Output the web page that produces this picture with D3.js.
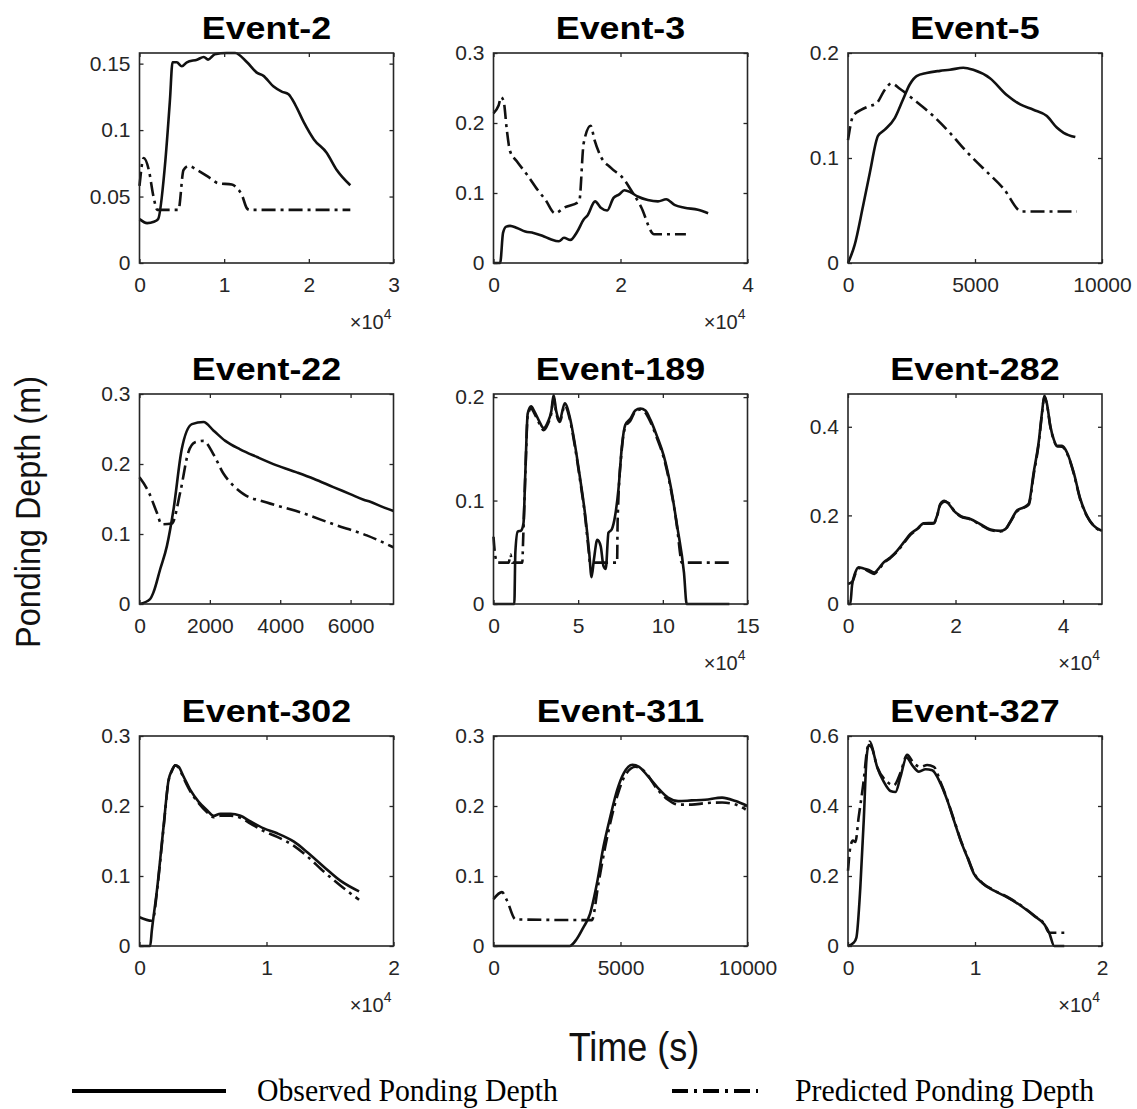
<!DOCTYPE html>
<html>
<head>
<meta charset="utf-8">
<script src="https://cdn.jsdelivr.net/npm/d3@7"></script>
<style>
  body { margin: 0; background: #fff; }
  svg { display: block; }
</style>
</head>
<body>
<div id="vizcontainer"></div>
<script>
// ---- data (time in s, ponding depth in m) ----
const eventNames = ['Event-2', 'Event-3', 'Event-5', 'Event-22', 'Event-189', 'Event-282', 'Event-302', 'Event-311', 'Event-327'];

const ev2Obs = [[0,0.033],[900,0.030],[1700,0.031],[2200,0.033],[3000,0.073],[3600,0.123],[3900,0.151],[4400,0.151],[5000,0.148],[5600,0.151],[6800,0.153],[7600,0.155],[8100,0.153],[8900,0.157],[10300,0.158],[11300,0.158],[12700,0.151],[13900,0.143],[14600,0.141],[15800,0.133],[16800,0.129],[17600,0.127],[18400,0.119],[19400,0.106],[20600,0.093],[22100,0.083],[23300,0.070],[24900,0.0585]];
const ev2Pred = [[0,0.058],[500,0.079],[1100,0.070],[1650,0.050],[2100,0.040],[4600,0.040],[5200,0.070],[5800,0.073],[6800,0.070],[8300,0.064],[9300,0.060],[10900,0.059],[11500,0.0565],[12100,0.051],[12700,0.041],[13000,0.040],[24900,0.040]];

const ev3Obs = [[0,0],[1050,0],[1500,0.043],[2000,0.052],[2600,0.053],[3700,0.050],[5000,0.045],[6300,0.043],[7700,0.039],[9000,0.034],[10300,0.031],[11100,0.036],[12100,0.033],[13200,0.045],[14200,0.062],[14800,0.068],[16000,0.088],[16900,0.079],[17900,0.075],[18900,0.093],[19800,0.098],[20600,0.104],[21600,0.101],[22700,0.095],[24300,0.090],[25900,0.088],[27200,0.091],[28500,0.083],[30100,0.079],[32200,0.076],[33800,0.071]];
const ev3Pred = [[0,0.214],[800,0.225],[1200,0.237],[1600,0.231],[2100,0.19],[2600,0.16],[3700,0.145],[5300,0.126],[6900,0.105],[8200,0.090],[9700,0.071],[11100,0.079],[13500,0.088],[14200,0.171],[15300,0.196],[15900,0.176],[16900,0.152],[18500,0.136],[20600,0.119],[21600,0.105],[23200,0.081],[25300,0.041],[30300,0.041]];

const ev5Obs = [[0,0],[260,0.017],[590,0.054],[860,0.086],[1180,0.121],[1450,0.127],[1840,0.138],[2170,0.156],[2430,0.17],[2700,0.178],[3090,0.181],[3620,0.183],[4010,0.184],[4540,0.186],[4930,0.184],[5590,0.176],[6250,0.160],[6780,0.151],[7300,0.146],[7830,0.140],[8220,0.129],[8490,0.124],[8950,0.120]];
const ev5Pred = [[0,0.117],[200,0.140],[530,0.146],[790,0.149],[1120,0.152],[1450,0.165],[1710,0.171],[2040,0.166],[2570,0.156],[3360,0.140],[4010,0.124],[4670,0.106],[5330,0.090],[6120,0.071],[6840,0.049],[9010,0.049]];

const ev22Obs = [[0,0],[300,0.007],[400,0.017],[590,0.05],[780,0.083],[970,0.136],[1200,0.221],[1490,0.257],[1820,0.26],[2100,0.248],[2440,0.233],[2860,0.221],[3340,0.21],[3900,0.198],[4470,0.188],[4950,0.179],[5510,0.167],[5990,0.157],[6370,0.149],[6560,0.146],[6940,0.138],[7220,0.133]];
const ev22Pred = [[0,0.181],[260,0.16],[490,0.131],[630,0.114],[920,0.115],[1160,0.16],[1390,0.217],[1580,0.231],[1820,0.233],[2100,0.214],[2390,0.186],[2670,0.169],[2960,0.157],[3620,0.145],[4570,0.131],[5510,0.114],[6460,0.098],[7220,0.081]];

const ev189Obs = [[0,0],[12300,0],[12900,0.050],[14300,0.070],[16300,0.071],[17700,0.078],[18800,0.127],[20200,0.184],[22200,0.191],[24200,0.186],[27200,0.176],[29600,0.170],[32100,0.176],[34100,0.186],[35500,0.202],[37100,0.186],[39100,0.178],[42100,0.194],[45000,0.181],[48000,0.155],[51000,0.123],[54000,0.088],[56500,0.050],[57900,0.026],[59300,0.043],[61300,0.062],[63300,0.056],[64900,0.037],[66300,0.034],[67900,0.069],[69800,0.072],[71800,0.085],[73800,0.111],[75800,0.152],[77800,0.173],[80800,0.179],[83700,0.187],[86700,0.189],[89700,0.187],[92700,0.178],[96600,0.162],[100600,0.143],[104600,0.114],[108500,0.075],[112500,0.030],[114100,0],[139300,0]];
const ev189Pred = [[0,0.065],[1200,0.045],[2500,0.040],[9000,0.040],[10000,0.048],[11000,0.040],[17000,0.040],[17500,0.062],[18800,0.125],[20200,0.182],[22200,0.189],[24200,0.184],[27200,0.174],[29600,0.168],[32100,0.174],[34100,0.184],[35500,0.199],[37100,0.184],[39100,0.176],[42100,0.192],[45000,0.179],[48000,0.153],[51000,0.121],[54000,0.086],[56300,0.050],[57000,0.040],[73000,0.040],[73300,0.080],[75800,0.150],[77800,0.171],[80800,0.177],[83700,0.186],[86700,0.188],[89700,0.185],[92700,0.176],[96600,0.160],[100600,0.141],[104600,0.112],[108500,0.073],[110500,0.045],[111000,0.040],[139300,0.040]];

const ev282Obs = [[0,0],[430,0],[740,0.041],[1360,0.071],[1980,0.083],[2910,0.080],[3840,0.077],[4900,0.071],[5700,0.080],[6640,0.094],[7880,0.105],[9120,0.120],[10360,0.139],[11600,0.158],[12840,0.169],[14080,0.182],[15940,0.183],[16560,0.199],[17180,0.226],[17920,0.233],[18730,0.226],[19660,0.211],[20900,0.199],[22760,0.192],[24620,0.180],[26480,0.168],[28340,0.165],[29270,0.169],[30200,0.186],[31440,0.211],[32680,0.218],[33610,0.226],[34540,0.297],[35470,0.365],[36090,0.432],[36530,0.470],[37020,0.451],[37640,0.402],[38260,0.372],[38880,0.357],[39810,0.357],[40740,0.342],[41980,0.297],[43220,0.237],[44460,0.199],[45700,0.177],[47250,0.165]];
const ev282Pred = [[0,0.045],[900,0.052],[1360,0.068],[1980,0.081],[2910,0.079],[3840,0.074],[4900,0.068],[5700,0.078],[6640,0.092],[7880,0.104],[9120,0.118],[10360,0.137],[11600,0.156],[12840,0.168],[14080,0.181],[15940,0.182],[16560,0.198],[17180,0.224],[17920,0.231],[18730,0.228],[19660,0.212],[20900,0.198],[22760,0.191],[24620,0.179],[26480,0.167],[28340,0.164],[29270,0.168],[30200,0.185],[31440,0.209],[32680,0.217],[33610,0.224],[34540,0.292],[35470,0.362],[36090,0.430],[36530,0.468],[37020,0.450],[37640,0.400],[38260,0.371],[38880,0.356],[39810,0.355],[40740,0.340],[41980,0.295],[43220,0.235],[44460,0.198],[45700,0.176],[47250,0.164]];

const ev302Obs = [[0,0],[840,0],[970,0.022],[1370,0.079],[1890,0.17],[2290,0.237],[2550,0.251],[2820,0.258],[3080,0.256],[3470,0.242],[4000,0.223],[4660,0.206],[5320,0.194],[5840,0.186],[6370,0.189],[7160,0.189],[7950,0.186],[8740,0.178],[9790,0.168],[10840,0.161],[12160,0.149],[13210,0.134],[14530,0.113],[15840,0.093],[17290,0.078]];
const ev302Pred = [[0,0.041],[970,0.036],[1100,0.040],[1370,0.077],[1890,0.168],[2290,0.236],[2550,0.250],[2820,0.258],[3080,0.255],[3470,0.240],[4000,0.221],[4660,0.204],[5320,0.191],[5840,0.184],[6370,0.186],[7160,0.186],[7950,0.183],[8740,0.175],[9790,0.164],[10840,0.156],[12160,0.143],[13210,0.128],[14530,0.106],[15840,0.086],[17290,0.066]];

const ev311Obs = [[0,0],[3000,0],[3270,0.0096],[3530,0.026],[3800,0.046],[4070,0.089],[4330,0.142],[4600,0.185],[4870,0.223],[5130,0.247],[5470,0.259],[5730,0.256],[6070,0.243],[6470,0.226],[6870,0.212],[7270,0.207],[7800,0.208],[8330,0.209],[9000,0.212],[9530,0.207],[10000,0.200]];
const ev311Pred = [[0,0.067],[330,0.077],[530,0.065],[870,0.038],[3870,0.037],[4130,0.089],[4400,0.142],[4870,0.214],[5200,0.245],[5600,0.256],[5930,0.250],[6470,0.223],[6870,0.209],[7270,0.202],[7800,0.202],[8330,0.204],[9000,0.205],[9530,0.202],[9930,0.195]];

const ev327Obs = [[0,0],[450,0.0096],[660,0.024],[970,0.167],[1240,0.359],[1450,0.531],[1630,0.574],[1890,0.565],[2290,0.512],[2820,0.469],[3340,0.443],[3740,0.44],[4130,0.483],[4610,0.539],[5050,0.517],[5580,0.498],[6110,0.505],[6630,0.502],[7290,0.464],[7820,0.416],[8340,0.359],[8870,0.301],[9390,0.254],[9920,0.206],[10580,0.179],[11500,0.158],[12550,0.139],[13610,0.115],[14660,0.086],[15450,0.062],[15840,0.038],[16240,0],[17030,0]];
const ev327Pred = [[0,0.215],[180,0.282],[390,0.301],[580,0.297],[840,0.368],[1240,0.474],[1500,0.56],[1710,0.584],[2290,0.512],[3080,0.469],[3610,0.459],[4130,0.495],[4660,0.546],[5180,0.522],[5710,0.512],[6240,0.517],[6760,0.512],[7290,0.468],[7820,0.418],[8340,0.361],[8870,0.303],[9390,0.256],[9920,0.208],[10580,0.180],[11500,0.159],[12550,0.140],[13610,0.116],[14660,0.087],[15450,0.063],[15840,0.038],[17030,0.038]];

const obsSeries = [ev2Obs, ev3Obs, ev5Obs, ev22Obs, ev189Obs, ev282Obs, ev302Obs, ev311Obs, ev327Obs];
const predSeries = [ev2Pred, ev3Pred, ev5Pred, ev22Pred, ev189Pred, ev282Pred, ev302Pred, ev311Pred, ev327Pred];

// axis limits and ticks
const xLimits = [30000, 40000, 10000, 7220, 150000, 47250, 20000, 10000, 20000];
const yLimits = [0.158, 0.3, 0.2, 0.3, 0.203, 0.474, 0.3, 0.3, 0.6];
const xTickSets = [
  [0, 10000, 20000, 30000], [0, 20000, 40000], [0, 5000, 10000],
  [0, 2000, 4000, 6000], [0, 50000, 100000, 150000], [0, 20000, 40000],
  [0, 10000, 20000], [0, 5000, 10000], [0, 10000, 20000]
];
const yTickSets = [
  [0, 0.05, 0.1, 0.15], [0, 0.1, 0.2, 0.3], [0, 0.1, 0.2],
  [0, 0.1, 0.2, 0.3], [0, 0.1, 0.2], [0, 0.2, 0.4],
  [0, 0.1, 0.2, 0.3], [0, 0.1, 0.2, 0.3], [0, 0.2, 0.4, 0.6]
];
const xExponent = [4, 4, 0, 0, 4, 4, 4, 0, 4];

const legendLabels = ['Observed Ponding Depth', 'Predicted Ponding Depth'];

// ---- layout ----
const W = 1137, H = 1109;
const colLeft = [139.5, 493.5, 848];
const rowTop = [53, 394, 736];
const pw = 254, ph = 210;
const ink = '#111';
const dashDot = '14,5,3,5';

const svg = d3.select('#vizcontainer')
  .append('svg')
  .attr('width', W)
  .attr('height', H);

svg.append('rect').attr('width', W).attr('height', H).attr('fill', '#fff');

const panels = eventNames.map((name, i) => ({
  name, obs: obsSeries[i], pred: predSeries[i],
  xMax: xLimits[i], yMax: yLimits[i],
  xTicks: xTickSets[i], yTicks: yTickSets[i], exp: xExponent[i],
  left: colLeft[i % 3], top: rowTop[Math.floor(i / 3)]
}));

panels.forEach(p => {
  const g = svg.append('g').attr('transform', `translate(${p.left},${p.top})`);

  const x = d3.scaleLinear().domain([0, p.xMax]).range([0, pw]);
  const y = d3.scaleLinear().domain([0, p.yMax]).range([ph, 0]);

  const line = d3.line()
    .x(d => x(d[0]))
    .y(d => y(d[1]))
    .curve(d3.curveMonotoneX);

  g.append('path')
    .datum(p.pred)
    .attr('d', line)
    .attr('fill', 'none')
    .attr('stroke', ink)
    .attr('stroke-width', 2.6)
    .attr('stroke-dasharray', dashDot);

  g.append('path')
    .datum(p.obs)
    .attr('d', line)
    .attr('fill', 'none')
    .attr('stroke', ink)
    .attr('stroke-width', 2.6)
    .attr('stroke-linejoin', 'round');

  // axes: ticks inward on all sides (box on)
  const scaleDiv = Math.pow(10, p.exp);
  const xFmt = d => String(+(d / scaleDiv).toFixed(3));
  const yFmt = d => String(+d.toFixed(3));

  const axB = g.append('g').attr('transform', `translate(0,${ph})`)
    .call(d3.axisBottom(x).tickValues(p.xTicks).tickSize(-4).tickPadding(10).tickFormat(xFmt));
  const axT = g.append('g')
    .call(d3.axisTop(x).tickValues(p.xTicks).tickSize(-4).tickFormat(''));
  const axL = g.append('g')
    .call(d3.axisLeft(y).tickValues(p.yTicks).tickSize(-4).tickPadding(9).tickFormat(yFmt));
  const axR = g.append('g').attr('transform', `translate(${pw},0)`)
    .call(d3.axisRight(y).tickValues(p.yTicks).tickSize(-4).tickFormat(''));

  [axB, axT, axL, axR].forEach(a => {
    a.select('.domain').remove();
    a.selectAll('line').attr('stroke', '#262626').attr('stroke-width', 1.3);
    a.selectAll('text')
      .attr('fill', '#262626')
      .attr('font-family', 'Liberation Sans, Arial, sans-serif')
      .attr('font-size', 21);
  });
  axB.selectAll('text').attr('dy', '0.9em');

  g.append('rect')
    .attr('width', pw).attr('height', ph)
    .attr('fill', 'none')
    .attr('stroke', '#262626')
    .attr('stroke-width', 1.6);

  if (p.exp) {
    const ex = g.append('text')
      .attr('x', pw - 2)
      .attr('y', ph + 66)
      .attr('text-anchor', 'end')
      .attr('fill', '#262626')
      .attr('font-family', 'Liberation Sans, Arial, sans-serif')
      .attr('font-size', 20);
    ex.append('tspan').text('\u00d710');
    ex.append('tspan').text(p.exp).attr('font-size', 14).attr('dy', -10);
  }

  svg.append('text')
    .attr('transform', `translate(${p.left + pw / 2},${p.top - 14}) scale(1.12,1)`)
    .attr('text-anchor', 'middle')
    .attr('font-family', 'Liberation Sans, Arial, sans-serif')
    .attr('font-weight', 'bold')
    .attr('font-size', 32)
    .attr('fill', '#000')
    .text(p.name);
});

// shared axis labels
svg.append('text')
  .attr('transform', 'translate(40,512) rotate(-90) scale(0.9,1)')
  .attr('text-anchor', 'middle')
  .attr('font-family', 'Liberation Sans, Arial, sans-serif')
  .attr('font-size', 36)
  .attr('fill', '#111')
  .text('Ponding Depth (m)');

svg.append('text')
  .attr('transform', 'translate(634,1061) scale(0.9,1)')
  .attr('text-anchor', 'middle')
  .attr('font-family', 'Liberation Sans, Arial, sans-serif')
  .attr('font-size', 40)
  .attr('fill', '#111')
  .text('Time (s)');

// legend
const legendItems = [
  { label: legendLabels[0], x0: 72, x1: 226, tx: 257, dash: null, sw: 4 },
  { label: legendLabels[1], x0: 672, x1: 758, tx: 795, dash: '16,6,3,6', sw: 4 }
];
legendItems.forEach(it => {
  svg.append('line')
    .attr('x1', it.x0).attr('x2', it.x1)
    .attr('y1', 1091).attr('y2', 1091)
    .attr('stroke', '#000')
    .attr('stroke-width', it.sw)
    .attr('stroke-dasharray', it.dash);
  svg.append('text')
    .attr('transform', `translate(${it.tx},1101) scale(0.93,1)`)
    .attr('font-family', 'Liberation Serif, Times New Roman, serif')
    .attr('font-size', 32)
    .attr('fill', '#000')
    .text(it.label);
});
</script>
</body>
</html>
